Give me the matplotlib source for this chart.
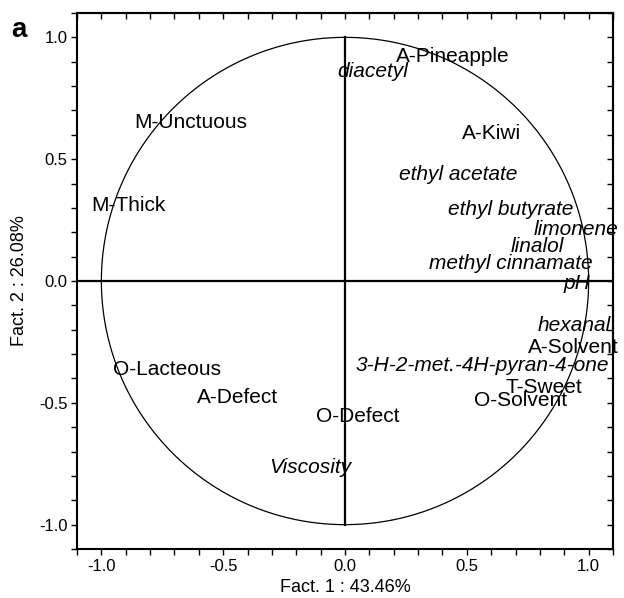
import numpy as np
import matplotlib
matplotlib.use('Agg')
import matplotlib.pyplot as plt
from matplotlib.ticker import MultipleLocator

plt.rcParams['font.family'] = ['Liberation Sans', 'DejaVu Sans']

# variable labels and their coordinates on the first two factors
names = ['M-Unctuous', 'M-Thick', 'A-Pineapple', 'diacetyl', 'A-Kiwi',
         'ethyl acetate', 'ethyl butyrate', 'limonene', 'linalol',
         'methyl cinnamate', 'pH', 'hexanal', 'A-Solvent',
         '3-H-2-met.-4H-pyran-4-one', 'T-Sweet', 'O-Solvent', 'O-Defect',
         'Viscosity', 'O-Lacteous', 'A-Defect']
fact1 = [-0.634, -0.89, 0.444, 0.114, 0.601, 0.466, 0.679, 0.947, 0.79,
         0.679, 0.95, 0.939, 0.939, 0.562, 0.816, 0.72, 0.053, -0.143,
         -0.732, -0.44]
fact2 = [0.658, 0.319, 0.928, 0.867, 0.614, 0.446, 0.303, 0.221, 0.151,
         0.082, 0.0, -0.176, -0.265, -0.34, -0.43, -0.483, -0.548, -0.757,
         -0.356, -0.47]
italic = [False, False, False, True, False, True, True, True, True, True,
          True, True, False, True, False, False, False, True, False, False]

xlabel = 'Fact. 1 : 43.46%'
ylabel = 'Fact. 2 : 26.08%'

fig = plt.figure(figsize=(6.24, 5.98), dpi=100)
ax = fig.add_axes([0.1234, 0.0819, 0.859, 0.8964])

# unit circle and axes through the origin
t = np.linspace(0, 2 * np.pi, 400)
ax.plot(np.cos(t), np.sin(t), color='black', lw=0.9)
ax.axhline(0, color='black', lw=1.6)
ax.plot([0, 0], [-1, 1], color='black', lw=1.6)

for n, x, y, it in zip(names, fact1, fact2, italic):
    ax.text(x, y, n, ha='center', va='center_baseline', fontsize=15,
            style='italic' if it else 'normal')

ax.set_xlim(-1.1, 1.1)
ax.set_ylim(-1.1, 1.1)
ax.xaxis.set_major_locator(MultipleLocator(0.5))
ax.yaxis.set_major_locator(MultipleLocator(0.5))
ax.xaxis.set_minor_locator(MultipleLocator(0.1))
ax.yaxis.set_minor_locator(MultipleLocator(0.1))
ax.xaxis.set_major_formatter(lambda v, p: f'{v:.1f}')
ax.yaxis.set_major_formatter(lambda v, p: f'{v:.1f}')
ax.tick_params(which='both', direction='out', length=4, width=1,
               labelsize=12, pad=3)

# inward ticks on top and right
top = ax.secondary_xaxis('top')
right = ax.secondary_yaxis('right')
for sec in (top, right):
    sec.xaxis.set_major_locator(MultipleLocator(0.1)) if sec is top else \
        sec.yaxis.set_major_locator(MultipleLocator(0.1))
    sec.tick_params(direction='in', length=4, width=1,
                    labeltop=False, labelright=False)
    for s in sec.spines.values():
        s.set_linewidth(1.5)

for s in ax.spines.values():
    s.set_linewidth(1.5)

ax.set_xlabel(xlabel, fontsize=13, labelpad=4)
ax.set_ylabel(ylabel, fontsize=13, labelpad=8)
fig.text(0.018, 0.972, 'a', fontsize=20, fontweight='bold',
         ha='left', va='top')

fig.savefig('out.png', dpi=100)
